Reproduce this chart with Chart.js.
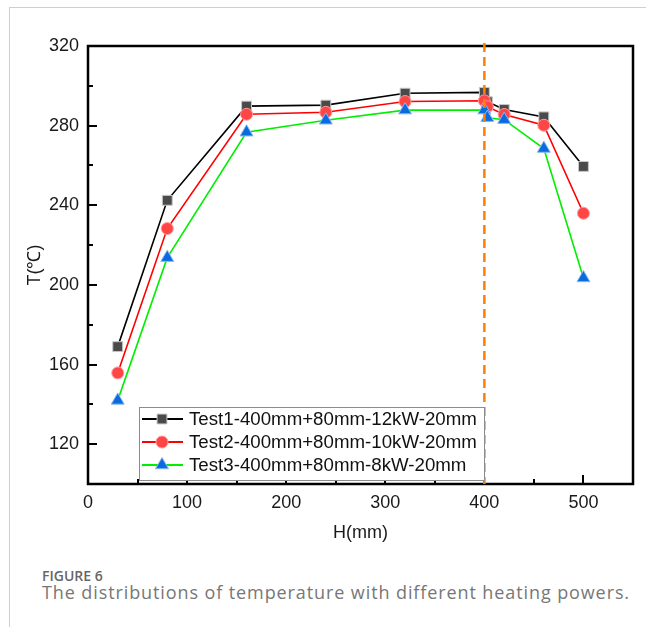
<!DOCTYPE html>
<html>
<head>
<meta charset="utf-8">
<script src="https://cdn.jsdelivr.net/npm/chart.js@4.4.1/dist/chart.umd.min.js"></script>
<style>
  body { margin: 0; background: #fff; }
  #wrap { position: relative; width: 646px; height: 627px; overflow: hidden; }
  #frame { position: absolute; left: 9px; top: 7px; width: 640px; height: 630px;
           border-top: 1px solid #cfcfcf; border-left: 1px solid #cfcfcf; }
  #cv { position: absolute; left: 0; top: 0; }
  .cap1 { position: absolute; left: 42px; top: 566px; font: 600 14px "Open Sans", sans-serif; color: #666; }
  .cap2 { position: absolute; left: 42px; top: 580px; font: 18px "Open Sans", sans-serif; color: #777; letter-spacing: 0.9px; white-space: nowrap; }
</style>
</head>
<body>
<div id="wrap">
  <div id="frame"></div>
  <canvas id="cv" width="646" height="560"></canvas>
  <div class="cap1">FIGURE 6</div>
  <div class="cap2">The distributions of temperature with different heating powers.</div>
</div>
<script>
// H (mm) positions
const hPos = [30, 80, 160, 240, 320, 400, 403, 420, 460, 500];
// T (°C) for each test
const test1 = [169, 242.5, 289.8, 290.3, 296.3, 296.7, 292, 288.1, 284.4, 259.5];
const test2 = [155.8, 228.3, 285.7, 286.7, 292.1, 292.5, 289.5, 285.6, 280.2, 236];
const test3 = [142, 213.7, 276.7, 282.7, 287.8, 287.8, 284, 283, 268.5, 203.5];
const seriesNames = ['Test1-400mm+80mm-12kW-20mm', 'Test2-400mm+80mm-10kW-20mm', 'Test3-400mm+80mm-8kW-20mm'];
const markX = 400;

const font = { family: '"Liberation Sans", Arial, sans-serif', size: 18 };

function pts(vals) {
  return hPos.map((h, i) => ({ x: h, y: vals[i] }));
}

const styles = [
  { line: '#000000', fill: '#4a4a4a', edge: '#c8c8c8', shape: 'rect', r: 7 },
  { line: '#ff0000', fill: '#ff4545', edge: '#ff9a9a', shape: 'circle', r: 6 },
  { line: '#00ee00', fill: '#0a6be0', edge: '#8ab8f0', shape: 'triangle', r: 7.5 }
];

const datasets = [test1, test2, test3].map((vals, i) => ({
  label: seriesNames[i],
  data: pts(vals),
  borderColor: styles[i].line,
  borderWidth: 1.6,
  backgroundColor: styles[i].fill,
  pointBackgroundColor: styles[i].fill,
  pointBorderColor: styles[i].edge,
  pointBorderWidth: 1,
  pointStyle: styles[i].shape,
  pointRadius: styles[i].r,
  tension: 0,
  order: 3 - i
}));

function marker(ctx, s, x, y) {
  ctx.save();
  ctx.fillStyle = s.fill;
  ctx.strokeStyle = s.edge;
  ctx.lineWidth = 1;
  ctx.beginPath();
  if (s.shape === 'rect') {
    const h = s.r * Math.SQRT1_2;
    ctx.rect(x - h, y - h, 2 * h, 2 * h);
  } else if (s.shape === 'circle') {
    ctx.arc(x, y, s.r, 0, Math.PI * 2);
  } else {
    const r = s.r;
    ctx.moveTo(x, y - r);
    ctx.lineTo(x + r * Math.sin(Math.PI / 3), y + r / 2);
    ctx.lineTo(x - r * Math.sin(Math.PI / 3), y + r / 2);
    ctx.closePath();
  }
  ctx.fill();
  ctx.stroke();
  ctx.restore();
}

const decor = {
  id: 'decor',
  afterDatasetsDraw(chart) {
    const { ctx, chartArea: a, scales: { x, y } } = chart;
    ctx.save();
    // frame
    ctx.strokeStyle = '#000';
    ctx.lineWidth = 2.5;
    ctx.strokeRect(a.left, a.top, a.right - a.left, a.bottom - a.top);
    // inward ticks
    ctx.lineWidth = 2;
    ctx.beginPath();
    x.ticks.forEach(t => {
      if (t.value <= x.min || t.value >= x.max) return;
      const px = Math.round(x.getPixelForValue(t.value));
      const len = t.value % 100 === 0 ? 9 : 5;
      ctx.moveTo(px, a.bottom);
      ctx.lineTo(px, a.bottom - len);
    });
    y.ticks.forEach(t => {
      if (t.value <= y.min || t.value >= y.max) return;
      const py = Math.round(y.getPixelForValue(t.value));
      const len = t.value % 40 === 0 ? 9 : 5;
      ctx.moveTo(a.left, py);
      ctx.lineTo(a.left + len, py);
    });
    ctx.stroke();

    // dashed marker line
    const dx = x.getPixelForValue(markX);
    ctx.strokeStyle = '#ff8000';
    ctx.lineWidth = 2.5;
    ctx.setLineDash([9, 5]);
    ctx.beginPath();
    ctx.moveTo(dx, a.top - 3);
    ctx.lineTo(dx, a.bottom);
    ctx.stroke();
    ctx.setLineDash([]);

    // legend box
    const lx = a.left + 51, ly = a.bottom - 77, lw = 345, lh = 73;
    ctx.fillStyle = '#fff';
    ctx.fillRect(lx, ly, lw, lh);
    ctx.strokeStyle = '#8c8c8c';
    ctx.lineWidth = 1;
    ctx.strokeRect(lx + 0.5, ly + 0.5, lw, lh);
    ctx.font = '18.7px "Liberation Sans", Arial, sans-serif';
    ctx.textBaseline = 'middle';
    ctx.textAlign = 'left';
    seriesNames.forEach((name, i) => {
      const cy = ly + 12 + i * 23;
      ctx.strokeStyle = styles[i].line;
      ctx.lineWidth = 2;
      ctx.beginPath();
      ctx.moveTo(lx + 3, cy);
      ctx.lineTo(lx + 44, cy);
      ctx.stroke();
      marker(ctx, styles[i], lx + 23, cy);
      ctx.fillStyle = '#111';
      ctx.fillText(name, lx + 50, cy + 1);
    });
    ctx.restore();
  }
};

new Chart(document.getElementById('cv'), {
  type: 'line',
  data: { datasets: datasets },
  options: {
    responsive: false,
    animation: false,
    layout: { padding: { top: 46, right: 13, left: 0, bottom: 0 } },
    plugins: { legend: { display: false }, tooltip: { enabled: false } },
    scales: {
      x: {
        type: 'linear', min: 0, max: 550,
        grid: { display: false, drawTicks: false }, border: { display: false },
        ticks: { stepSize: 50, autoSkip: false, maxRotation: 0, padding: 8, color: '#1a1a1a', font: font,
                 callback: v => v % 100 === 0 ? v : '' },
        title: { display: true, text: 'H(mm)', color: '#1a1a1a', font: font, padding: { top: 10, bottom: 16 } },
        afterFit: s => { s.height = 76; }
      },
      y: {
        min: 100, max: 320,
        grid: { display: false, drawTicks: false }, border: { display: false },
        ticks: { stepSize: 20, autoSkip: false, padding: 9, color: '#1a1a1a', font: font,
                 callback: v => (v % 40 === 0 && v > 100) ? v : '' },
        title: { display: true, text: 'T(℃)', color: '#1a1a1a', font: font, padding: { top: 24, bottom: 0 } },
        afterFit: s => { s.width = 88; }
      }
    }
  },
  plugins: [decor]
});
</script>
</body>
</html>
